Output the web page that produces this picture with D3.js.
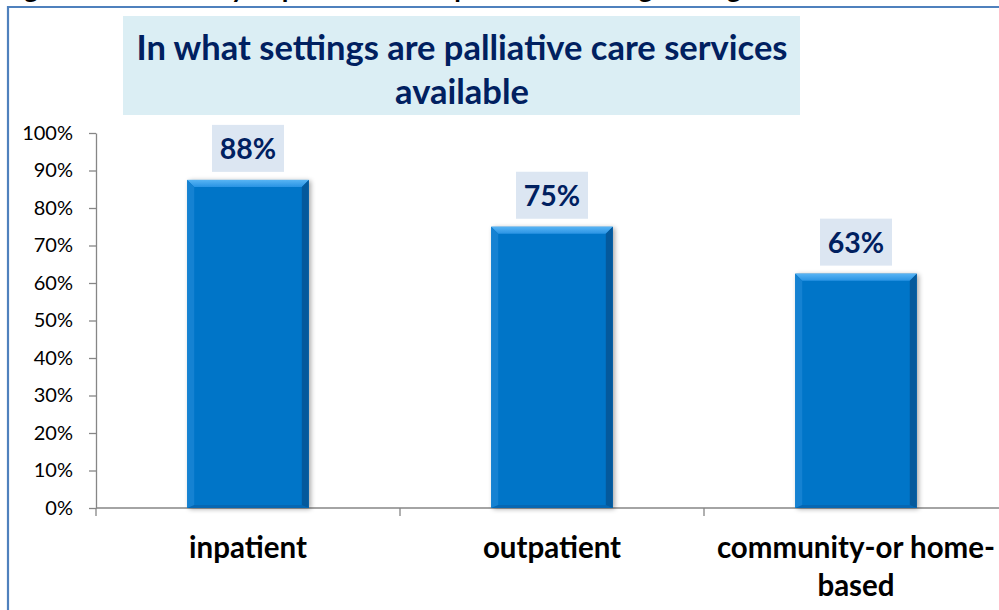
<!DOCTYPE html>
<html><head><meta charset="utf-8">
<script src="https://cdn.jsdelivr.net/npm/d3@7"></script>
<style>
html,body{margin:0;padding:0;background:#fff;}
svg{display:block;font-family:Lato,"Open Sans",sans-serif;}
</style></head>
<body>
<svg id="c" width="999" height="610"></svg>
<script>
const categories = ["inpatient", "outpatient", "community-or home-based"];
const categoryLines = [["inpatient"], ["outpatient"], ["community-or home-", "based"]];
const values = [87.5, 75, 62.5];
const valueLabels = ["88%", "75%", "63%"];
const yTicks = [0, 10, 20, 30, 40, 50, 60, 70, 80, 90, 100];
const titleLines = ["In what settings are palliative care services", "available"];
const captionText = "Figure 5: Availability of palliative care provision among settings";

const svg = d3.select("#c");
const W = 999, H = 610;
const m = {left: 96, top: 133, bottom: 508, right: 1008};

const x = d3.scaleBand().domain(categories).range([m.left, m.right]).paddingInner(0.6).paddingOuter(0.3);
const y = d3.scaleLinear().domain([0, 100]).range([m.bottom, m.top]);

// cut-off caption at top (only descenders visible)
svg.append("text").attr("x", 2).attr("y", -2).attr("font-size", 27).attr("font-weight", 700)
  .attr("fill", "#000").text(captionText);

// frame
svg.append("path").attr("d", `M8,${H+5}V7H${W+5}`).attr("fill", "none").attr("stroke", "#4f81bd").attr("stroke-width", 2.2);

// title box
svg.append("rect").attr("x", 123).attr("y", 16).attr("width", 677).attr("height", 99).attr("fill", "#dbeef4");
svg.append("text").attr("text-anchor", "middle").attr("font-size", 34.5).attr("font-weight", 700).attr("fill", "#002060")
  .selectAll("tspan").data(titleLines).join("tspan")
  .attr("x", 462).attr("y", (d, i) => 60 + i * 44).text(d => d);

// defs for bar shading
const defs = svg.append("defs");
const f = defs.append("filter").attr("id", "sh").attr("x", "-10%").attr("y", "-10%").attr("width", "130%").attr("height", "130%");
f.append("feGaussianBlur").attr("in", "SourceAlpha").attr("stdDeviation", 2.5).attr("result", "b");
f.append("feOffset").attr("dx", 2).attr("dy", 1).attr("result", "o");
f.append("feComponentTransfer").append("feFuncA").attr("type", "linear").attr("slope", 0.35);
const fm = f.append("feMerge"); fm.append("feMergeNode"); fm.append("feMergeNode").attr("in", "SourceGraphic");

const gTop = defs.append("linearGradient").attr("id", "gt").attr("x1", 0).attr("y1", 0).attr("x2", 0).attr("y2", 1);
gTop.append("stop").attr("offset", "0%").attr("stop-color", "#58b4f4");
gTop.append("stop").attr("offset", "100%").attr("stop-color", "#2a94e4");

// y axis
const yAxis = svg.append("g").attr("transform", `translate(${m.left},0)`)
  .call(d3.axisLeft(y).tickValues(yTicks).tickFormat(d => d + "%").tickSize(7).tickSizeOuter(0));
yAxis.select(".domain").attr("stroke", "#868686").attr("stroke-width", 1.3);
yAxis.selectAll(".tick line").attr("stroke", "#868686").attr("stroke-width", 1.3);
yAxis.selectAll(".tick text").attr("font-size", 20).attr("fill", "#000").attr("x", -23).attr("font-family", "Lato, sans-serif");

// x axis baseline and category ticks
const xAxisG = svg.append("g");
xAxisG.append("line").attr("x1", m.left).attr("x2", W).attr("y1", y(0)).attr("y2", y(0)).attr("stroke", "#868686").attr("stroke-width", 1.5);
const step = x.step();
const bounds = d3.range(categories.length + 1).map(i => m.left + i * step);
xAxisG.selectAll("line.tk").data(bounds).join("line").attr("class", "tk")
  .attr("x1", d => d).attr("x2", d => d).attr("y1", y(0)).attr("y2", y(0) + 8)
  .attr("stroke", "#868686").attr("stroke-width", 1.3);

// bars
const bw = x.bandwidth();
const bev = 7;
const bars = svg.append("g").selectAll("g.bar").data(categories).join("g").attr("class", "bar");
bars.each(function (c, i) {
  const g = d3.select(this);
  const x0 = x(c), x1 = x0 + bw, y0 = y(values[i]), y1 = y(0);
  g.append("rect").attr("x", x0).attr("y", y0).attr("width", bw).attr("height", y1 - y0).attr("fill", "#0675c8").attr("filter", "url(#sh)");
  g.append("path").attr("d", `M${x0},${y0}H${x1}L${x1 - bev},${y0 + bev}H${x0 + bev}Z`).attr("fill", "url(#gt)");
  g.append("path").attr("d", `M${x0},${y0}L${x0 + bev},${y0 + bev}V${y1 - 2}L${x0},${y1}Z`).attr("fill", "#1582d2");
  g.append("path").attr("d", `M${x1},${y0}L${x1 - bev},${y0 + bev}V${y1 - 2}L${x1},${y1}Z`).attr("fill", "#04599c");
  g.append("path").attr("d", `M${x0},${y1}L${x0 + bev},${y1 - 3}H${x1 - bev}L${x1},${y1}Z`).attr("fill", "#0567b3");
  const cx = x0 + bw / 2;
  g.append("rect").attr("x", cx - 36).attr("y", y0 - 55).attr("width", 72).attr("height", 47).attr("fill", "#dce6f2");
  g.append("text").attr("x", cx).attr("y", y0 - 21).attr("text-anchor", "middle").attr("font-size", 28.5)
    .attr("font-weight", 700).attr("fill", "#002060").text(valueLabels[i]);
});

// category labels
svg.append("g").selectAll("text").data(categories).join("text")
  .attr("text-anchor", "middle").attr("font-size", 29.5).attr("font-weight", 700).attr("fill", "#000")
  .each(function (c, i) {
    d3.select(this).selectAll("tspan").data(categoryLines[i]).join("tspan")
      .attr("x", x(c) + bw / 2).attr("y", (d, j) => 558 + j * 38).text(d => d);
  });
</script>
</body></html>
